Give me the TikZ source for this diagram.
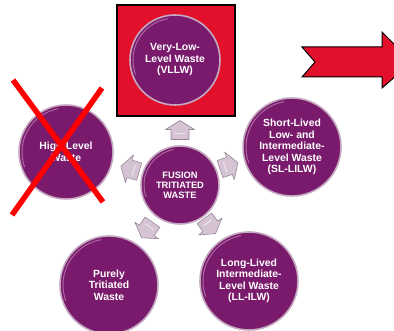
\documentclass[tikz,border=0pt]{standalone}
\usepackage{fontspec}
\setmainfont{Liberation Sans}
\definecolor{wpurple}{RGB}{122,26,108}
\definecolor{wring}{RGB}{196,168,192}
\definecolor{wred}{RGB}{226,16,42}
\definecolor{warrow}{RGB}{214,196,212}
\definecolor{warrowline}{RGB}{150,136,150}
\tikzset{
  waste/.style={circle, fill=wpurple, draw=wring, line width=1.6pt, inner sep=0pt,
    text=white, font=\bfseries\fontsize{10.4}{11.5}\selectfont, align=center},
  flowarrow/.style={fill=warrow, draw=warrowline, line width=0.6pt, line join=round},
}
\newcommand{\flowarrowat}[3]{%
  \coordinate (#1) at (#2);
  \begin{scope}[shift={(#1)}, rotate=#3]
    \draw[flowarrow] (-9.5,-9) -- (0.5,-9) -- (0.5,-14.5) -- (9.5,0) -- (0.5,14.5) -- (0.5,9) -- (-9.5,9) -- cycle;
    \draw[white, opacity=0.55, line width=1pt, line cap=round] (-4,-5) -- (-4,5);
  \end{scope}}
\begin{document}
\begin{tikzpicture}[x=1pt,y=1pt]
\useasboundingbox (0,0) rectangle (394,331);
\clip (0,0) rectangle (394,331);
% red square behind VLLW
\node[draw=black, line width=1.3pt, fill=wred, minimum width=118pt, minimum height=111pt, inner sep=0pt] (box) at (176,270.5) {};
% big red arrow
\draw[fill=wred, draw=black, line width=1pt] (302,284) -- (382,284) -- (382,299) -- (412,269) -- (382,243) -- (382,254) -- (302,254) -- (315,269) -- cycle;
% circles
\node[waste, minimum size=90pt] (vllw) at (175,271) {Very-Low-\\Level Waste\\(VLLW)};
\node[waste, minimum size=94pt] (hlw) at (66,179) {High-Level\\Waste};
\node[waste, minimum size=78pt, font=\bfseries\fontsize{9.3}{10}\selectfont] (fusion) at (180,146) {FUSION\\TRITIATED\\WASTE};
\node[waste, minimum size=98pt] (sl) at (292,184) {Short-Lived\\Low- and\\Intermediate-\\Level Waste\\(SL-LILW)};
\node[waste, minimum size=98pt] (pure) at (109,46) {Purely\\Tritiated\\Waste};
\node[waste, minimum size=98pt] (ll) at (249,50) {Long-Lived\\Intermediate-\\Level Waste\\(LL-ILW)};
% highlights
\foreach \n/\r in {vllw/42, hlw/44, fusion/36, sl/46, pure/46, ll/46}{
  \draw[white, opacity=0.35, line width=1pt] (\n.center) ++(100:\r) arc (100:200:\r);
}
% arrows
\flowarrowat{aup}{180,201}{90}
\flowarrowat{aright}{229,165}{19}
\flowarrowat{aleft}{130,162}{164}
\flowarrowat{adl}{147,101}{235}
\flowarrowat{adr}{210,105}{306}
% red cross
\coordinate (x1) at (13,251);
\coordinate (x2) at (103,129);
\coordinate (x3) at (102,243);
\coordinate (x4) at (12,116);
\draw[red, line width=5.5pt] (x1) -- (x2);
\draw[red, line width=5.5pt] (x3) -- (x4);
\end{tikzpicture}
\end{document}
